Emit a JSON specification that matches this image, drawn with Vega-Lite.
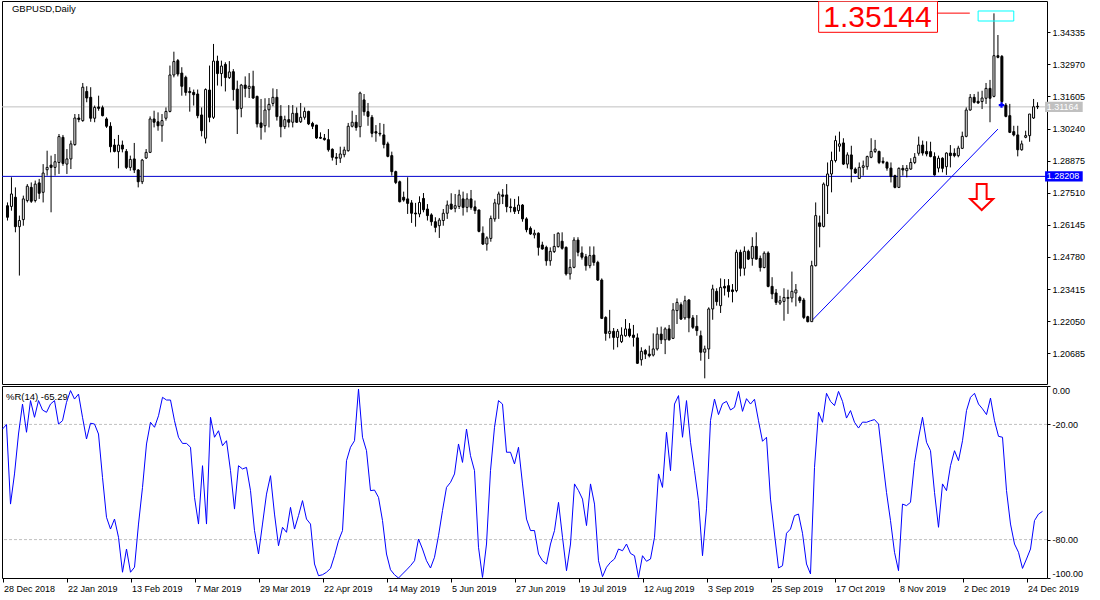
{
"$schema": "https://vega.github.io/schema/vega-lite/v6.json",
"background": "white",
"padding": {"left": 0, "top": 0, "right": 0, "bottom": 0},
"spacing": 2,
"bounds": "flush",
"config": {
  "view": {"stroke": "#000000", "strokeWidth": 1},
  "axis": {"labelFont": "Liberation Sans", "labelFontSize": 9, "labelColor": "#000000", "tickColor": "#000000", "domain": false, "grid": false},
  "text": {"font": "Liberation Sans"}
},
"datasets": {
"bars": [
{"i":0,"o":1.2696,"h":1.2710,"l":1.2633,"c":1.2647,"r":-22.4},
{"i":1,"o":1.2693,"h":1.2817,"l":1.2675,"c":1.2746,"r":-20.1},
{"i":2,"o":1.2732,"h":1.2774,"l":1.2583,"c":1.2607,"r":-61.5},
{"i":3,"o":1.2607,"h":1.2654,"l":1.2399,"c":1.2633,"r":-45.8},
{"i":4,"o":1.2637,"h":1.2739,"l":1.2611,"c":1.2725,"r":-25.0},
{"i":5,"o":1.2718,"h":1.2788,"l":1.2710,"c":1.2779,"r":-9.4},
{"i":6,"o":1.2774,"h":1.2795,"l":1.2708,"c":1.2715,"r":-24.1},
{"i":7,"o":1.2718,"h":1.2803,"l":1.2710,"c":1.2788,"r":-7.6},
{"i":8,"o":1.2793,"h":1.2810,"l":1.2725,"c":1.2749,"r":-16.3},
{"i":9,"o":1.2753,"h":1.2873,"l":1.2710,"c":1.2835,"r":-7.6},
{"i":10,"o":1.2849,"h":1.2930,"l":1.2824,"c":1.2859,"r":-12.5},
{"i":11,"o":1.2869,"h":1.2909,"l":1.2668,"c":1.2859,"r":-13.7},
{"i":12,"o":1.2859,"h":1.2916,"l":1.2824,"c":1.2883,"r":-9.4},
{"i":13,"o":1.2880,"h":1.3001,"l":1.2831,"c":1.2990,"r":-7.6},
{"i":14,"o":1.2987,"h":1.2997,"l":1.2866,"c":1.2876,"r":-19.8},
{"i":15,"o":1.2873,"h":1.2937,"l":1.2831,"c":1.2895,"r":-18.1},
{"i":16,"o":1.2895,"h":1.2973,"l":1.2852,"c":1.2959,"r":-8.5},
{"i":17,"o":1.2956,"h":1.3086,"l":1.2951,"c":1.3069,"r":-2.4},
{"i":18,"o":1.3069,"h":1.3086,"l":1.3051,"c":1.3063,"r":-6.8},
{"i":19,"o":1.3058,"h":1.3218,"l":1.3053,"c":1.3200,"r":-4.2},
{"i":20,"o":1.3182,"h":1.3204,"l":1.3136,"c":1.3154,"r":-16.3},
{"i":21,"o":1.3157,"h":1.3200,"l":1.3053,"c":1.3068,"r":-27.6},
{"i":22,"o":1.3068,"h":1.3122,"l":1.3051,"c":1.3114,"r":-19.4},
{"i":23,"o":1.3116,"h":1.3164,"l":1.3100,"c":1.3110,"r":-19.8},
{"i":24,"o":1.3113,"h":1.3122,"l":1.3076,"c":1.3079,"r":-25.0},
{"i":25,"o":1.3065,"h":1.3072,"l":1.3027,"c":1.3034,"r":-47.6},
{"i":26,"o":1.3034,"h":1.3051,"l":1.2923,"c":1.2947,"r":-68.4},
{"i":27,"o":1.2954,"h":1.2980,"l":1.2923,"c":1.2927,"r":-74.5},
{"i":28,"o":1.2926,"h":1.2997,"l":1.2855,"c":1.2954,"r":-69.3},
{"i":29,"o":1.2954,"h":1.2973,"l":1.2923,"c":1.2937,"r":-78.8},
{"i":30,"o":1.2927,"h":1.2937,"l":1.2852,"c":1.2859,"r":-97.0},
{"i":31,"o":1.2859,"h":1.2909,"l":1.2845,"c":1.2893,"r":-84.9},
{"i":32,"o":1.2895,"h":1.2963,"l":1.2835,"c":1.2848,"r":-97.0},
{"i":33,"o":1.2848,"h":1.2852,"l":1.2774,"c":1.2798,"r":-94.4},
{"i":34,"o":1.2798,"h":1.2895,"l":1.2788,"c":1.2890,"r":-71.9},
{"i":35,"o":1.2899,"h":1.2937,"l":1.2895,"c":1.2923,"r":-52.8},
{"i":36,"o":1.2923,"h":1.3076,"l":1.2920,"c":1.3065,"r":-30.2},
{"i":37,"o":1.3065,"h":1.3100,"l":1.3029,"c":1.3051,"r":-18.9},
{"i":38,"o":1.3053,"h":1.3093,"l":1.3015,"c":1.3036,"r":-21.5},
{"i":39,"o":1.3036,"h":1.3086,"l":1.2968,"c":1.3058,"r":-15.5},
{"i":40,"o":1.3068,"h":1.3114,"l":1.3058,"c":1.3097,"r":-5.9},
{"i":41,"o":1.3097,"h":1.3292,"l":1.3093,"c":1.3252,"r":-7.3},
{"i":42,"o":1.3252,"h":1.3351,"l":1.3242,"c":1.3309,"r":-7.3},
{"i":43,"o":1.3313,"h":1.3320,"l":1.3246,"c":1.3256,"r":-18.1},
{"i":44,"o":1.3260,"h":1.3285,"l":1.3164,"c":1.3204,"r":-26.7},
{"i":45,"o":1.3242,"h":1.3249,"l":1.3164,"c":1.3178,"r":-29.9},
{"i":46,"o":1.3182,"h":1.3200,"l":1.3096,"c":1.3177,"r":-29.9},
{"i":47,"o":1.3178,"h":1.3190,"l":1.3122,"c":1.3168,"r":-31.9},
{"i":48,"o":1.3171,"h":1.3190,"l":1.3068,"c":1.3079,"r":-58.0},
{"i":49,"o":1.3082,"h":1.3114,"l":1.2991,"c":1.3015,"r":-71.9},
{"i":50,"o":1.2983,"h":1.3195,"l":1.2961,"c":1.3190,"r":-41.5},
{"i":51,"o":1.3188,"h":1.3292,"l":1.3051,"c":1.3072,"r":-71.9},
{"i":52,"o":1.3072,"h":1.3384,"l":1.3065,"c":1.3311,"r":-16.3},
{"i":53,"o":1.3311,"h":1.3334,"l":1.3207,"c":1.3258,"r":-26.7},
{"i":54,"o":1.3258,"h":1.3313,"l":1.3204,"c":1.3290,"r":-23.3},
{"i":55,"o":1.3297,"h":1.3306,"l":1.3182,"c":1.3241,"r":-31.1},
{"i":56,"o":1.3241,"h":1.3311,"l":1.3235,"c":1.3265,"r":-28.5},
{"i":57,"o":1.3266,"h":1.3277,"l":1.3143,"c":1.3190,"r":-44.1},
{"i":58,"o":1.3192,"h":1.3228,"l":1.3001,"c":1.3107,"r":-64.1},
{"i":59,"o":1.3110,"h":1.3214,"l":1.3072,"c":1.3209,"r":-41.5},
{"i":60,"o":1.3209,"h":1.3246,"l":1.3157,"c":1.3195,"r":-43.2},
{"i":61,"o":1.3195,"h":1.3260,"l":1.3154,"c":1.3204,"r":-42.4},
{"i":62,"o":1.3204,"h":1.3270,"l":1.3150,"c":1.3154,"r":-54.5},
{"i":63,"o":1.3161,"h":1.3164,"l":1.3029,"c":1.3044,"r":-75.3},
{"i":64,"o":1.3048,"h":1.3150,"l":1.2977,"c":1.3029,"r":-87.5},
{"i":65,"o":1.3036,"h":1.3153,"l":1.3008,"c":1.3103,"r":-71.9},
{"i":66,"o":1.3104,"h":1.3154,"l":1.3029,"c":1.3127,"r":-56.3},
{"i":67,"o":1.3131,"h":1.3195,"l":1.3119,"c":1.3157,"r":-46.7},
{"i":68,"o":1.3157,"h":1.3192,"l":1.3058,"c":1.3075,"r":-66.7},
{"i":69,"o":1.3076,"h":1.3124,"l":1.2987,"c":1.3032,"r":-83.2},
{"i":70,"o":1.3032,"h":1.3079,"l":1.3022,"c":1.3062,"r":-73.6},
{"i":71,"o":1.3062,"h":1.3124,"l":1.3029,"c":1.3051,"r":-76.2},
{"i":72,"o":1.3051,"h":1.3124,"l":1.3029,"c":1.3089,"r":-63.2},
{"i":73,"o":1.3089,"h":1.3114,"l":1.3048,"c":1.3051,"r":-74.5},
{"i":74,"o":1.3053,"h":1.3133,"l":1.3048,"c":1.3072,"r":-67.5},
{"i":75,"o":1.3072,"h":1.3114,"l":1.3062,"c":1.3097,"r":-59.7},
{"i":76,"o":1.3097,"h":1.3100,"l":1.3039,"c":1.3044,"r":-69.3},
{"i":77,"o":1.3046,"h":1.3053,"l":1.3022,"c":1.3034,"r":-71.9},
{"i":78,"o":1.3039,"h":1.3040,"l":1.2980,"c":1.2984,"r":-92.7},
{"i":79,"o":1.2987,"h":1.3008,"l":1.2980,"c":1.2983,"r":-98.8},
{"i":80,"o":1.2983,"h":1.3001,"l":1.2973,"c":1.2977,"r":-98.3},
{"i":81,"o":1.2977,"h":1.3022,"l":1.2926,"c":1.2934,"r":-97.0},
{"i":82,"o":1.2936,"h":1.2940,"l":1.2888,"c":1.2902,"r":-95.0},
{"i":83,"o":1.2902,"h":1.2920,"l":1.2869,"c":1.2898,"r":-88.4},
{"i":84,"o":1.2898,"h":1.2947,"l":1.2878,"c":1.2916,"r":-80.6},
{"i":85,"o":1.2913,"h":1.2947,"l":1.2902,"c":1.2933,"r":-75.3},
{"i":86,"o":1.2930,"h":1.3048,"l":1.2926,"c":1.3034,"r":-38.9},
{"i":87,"o":1.3034,"h":1.3100,"l":1.3029,"c":1.3051,"r":-31.9},
{"i":88,"o":1.3051,"h":1.3082,"l":1.3015,"c":1.3029,"r":-28.5},
{"i":89,"o":1.3032,"h":1.3181,"l":1.2987,"c":1.3175,"r":-1.6},
{"i":90,"o":1.3146,"h":1.3171,"l":1.3079,"c":1.3096,"r":-26.7},
{"i":91,"o":1.3096,"h":1.3133,"l":1.3036,"c":1.3076,"r":-33.7},
{"i":92,"o":1.3072,"h":1.3082,"l":1.2987,"c":1.3004,"r":-54.5},
{"i":93,"o":1.3011,"h":1.3039,"l":1.2968,"c":1.3005,"r":-54.2},
{"i":94,"o":1.3004,"h":1.3048,"l":1.2991,"c":1.3001,"r":-58.0},
{"i":95,"o":1.2997,"h":1.3044,"l":1.2940,"c":1.2956,"r":-70.1},
{"i":96,"o":1.2959,"h":1.2968,"l":1.2902,"c":1.2906,"r":-87.5},
{"i":97,"o":1.2909,"h":1.2926,"l":1.2824,"c":1.2841,"r":-95.7},
{"i":98,"o":1.2841,"h":1.2845,"l":1.2788,"c":1.2795,"r":-98.3},
{"i":99,"o":1.2798,"h":1.2803,"l":1.2710,"c":1.2713,"r":-100.0},
{"i":100,"o":1.2732,"h":1.2756,"l":1.2713,"c":1.2720,"r":-97.9},
{"i":101,"o":1.2725,"h":1.2817,"l":1.2661,"c":1.2706,"r":-95.8},
{"i":102,"o":1.2708,"h":1.2720,"l":1.2623,"c":1.2664,"r":-93.6},
{"i":103,"o":1.2665,"h":1.2708,"l":1.2607,"c":1.2661,"r":-91.0},
{"i":104,"o":1.2661,"h":1.2736,"l":1.2647,"c":1.2710,"r":-79.7},
{"i":105,"o":1.2727,"h":1.2750,"l":1.2668,"c":1.2679,"r":-84.9},
{"i":106,"o":1.2682,"h":1.2703,"l":1.2633,"c":1.2654,"r":-91.0},
{"i":107,"o":1.2657,"h":1.2664,"l":1.2611,"c":1.2628,"r":-94.8},
{"i":108,"o":1.2628,"h":1.2647,"l":1.2583,"c":1.2604,"r":-89.2},
{"i":109,"o":1.2611,"h":1.2644,"l":1.2559,"c":1.2635,"r":-78.0},
{"i":110,"o":1.2633,"h":1.2682,"l":1.2611,"c":1.2664,"r":-64.9},
{"i":111,"o":1.2664,"h":1.2718,"l":1.2640,"c":1.2699,"r":-52.8},
{"i":112,"o":1.2703,"h":1.2749,"l":1.2679,"c":1.2682,"r":-50.2},
{"i":113,"o":1.2685,"h":1.2746,"l":1.2668,"c":1.2696,"r":-45.8},
{"i":114,"o":1.2693,"h":1.2764,"l":1.2682,"c":1.2742,"r":-30.2},
{"i":115,"o":1.2725,"h":1.2756,"l":1.2654,"c":1.2689,"r":-39.8},
{"i":116,"o":1.2689,"h":1.2749,"l":1.2668,"c":1.2725,"r":-22.4},
{"i":117,"o":1.2725,"h":1.2763,"l":1.2679,"c":1.2689,"r":-36.3},
{"i":118,"o":1.2691,"h":1.2718,"l":1.2661,"c":1.2675,"r":-44.1},
{"i":119,"o":1.2678,"h":1.2679,"l":1.2583,"c":1.2587,"r":-84.0},
{"i":120,"o":1.2579,"h":1.2608,"l":1.2529,"c":1.2533,"r":-99.7},
{"i":121,"o":1.2533,"h":1.2566,"l":1.2505,"c":1.2559,"r":-82.3},
{"i":122,"o":1.2557,"h":1.2654,"l":1.2543,"c":1.2642,"r":-44.1},
{"i":123,"o":1.2640,"h":1.2725,"l":1.2628,"c":1.2708,"r":-21.5},
{"i":124,"o":1.2703,"h":1.2756,"l":1.2640,"c":1.2746,"r":-7.6},
{"i":125,"o":1.2742,"h":1.2767,"l":1.2703,"c":1.2736,"r":-9.4},
{"i":126,"o":1.2742,"h":1.2788,"l":1.2668,"c":1.2692,"r":-34.5},
{"i":127,"o":1.2691,"h":1.2727,"l":1.2668,"c":1.2688,"r":-34.5},
{"i":128,"o":1.2689,"h":1.2725,"l":1.2661,"c":1.2672,"r":-40.6},
{"i":129,"o":1.2675,"h":1.2736,"l":1.2661,"c":1.2699,"r":-31.9},
{"i":130,"o":1.2699,"h":1.2703,"l":1.2628,"c":1.2640,"r":-51.0},
{"i":131,"o":1.2640,"h":1.2647,"l":1.2583,"c":1.2594,"r":-69.3},
{"i":132,"o":1.2600,"h":1.2608,"l":1.2572,"c":1.2576,"r":-75.3},
{"i":133,"o":1.2572,"h":1.2594,"l":1.2557,"c":1.2579,"r":-75.3},
{"i":134,"o":1.2579,"h":1.2583,"l":1.2484,"c":1.2519,"r":-87.5},
{"i":135,"o":1.2529,"h":1.2543,"l":1.2509,"c":1.2512,"r":-91.0},
{"i":136,"o":1.2519,"h":1.2526,"l":1.2441,"c":1.2462,"r":-92.7},
{"i":137,"o":1.2462,"h":1.2519,"l":1.2441,"c":1.2502,"r":-82.3},
{"i":138,"o":1.2501,"h":1.2576,"l":1.2495,"c":1.2523,"r":-75.3},
{"i":139,"o":1.2522,"h":1.2583,"l":1.2518,"c":1.2579,"r":-60.6},
{"i":140,"o":1.2545,"h":1.2583,"l":1.2509,"c":1.2515,"r":-78.8},
{"i":141,"o":1.2519,"h":1.2523,"l":1.2399,"c":1.2406,"r":-96.2},
{"i":142,"o":1.2406,"h":1.2469,"l":1.2382,"c":1.2434,"r":-82.3},
{"i":143,"o":1.2434,"h":1.2562,"l":1.2430,"c":1.2550,"r":-51.0},
{"i":144,"o":1.2550,"h":1.2562,"l":1.2481,"c":1.2498,"r":-54.5},
{"i":145,"o":1.2495,"h":1.2523,"l":1.2467,"c":1.2477,"r":-58.9},
{"i":146,"o":1.2479,"h":1.2491,"l":1.2420,"c":1.2441,"r":-72.7},
{"i":147,"o":1.2441,"h":1.2523,"l":1.2430,"c":1.2484,"r":-51.0},
{"i":148,"o":1.2486,"h":1.2523,"l":1.2441,"c":1.2455,"r":-61.5},
{"i":149,"o":1.2455,"h":1.2462,"l":1.2376,"c":1.2380,"r":-91.0},
{"i":150,"o":1.2380,"h":1.2387,"l":1.2214,"c":1.2217,"r":-99.3},
{"i":151,"o":1.2221,"h":1.2226,"l":1.2122,"c":1.2153,"r":-94.4},
{"i":152,"o":1.2153,"h":1.2253,"l":1.2132,"c":1.2162,"r":-91.8},
{"i":153,"o":1.2162,"h":1.2176,"l":1.2084,"c":1.2136,"r":-90.1},
{"i":154,"o":1.2136,"h":1.2172,"l":1.2094,"c":1.2162,"r":-84.9},
{"i":155,"o":1.2118,"h":1.2179,"l":1.2112,"c":1.2146,"r":-85.8},
{"i":156,"o":1.2143,"h":1.2214,"l":1.2139,"c":1.2172,"r":-82.3},
{"i":157,"o":1.2172,"h":1.2197,"l":1.2136,"c":1.2143,"r":-87.2},
{"i":158,"o":1.2146,"h":1.2189,"l":1.2097,"c":1.2136,"r":-88.4},
{"i":159,"o":1.2134,"h":1.2153,"l":1.2023,"c":1.2026,"r":-99.7},
{"i":160,"o":1.2041,"h":1.2094,"l":1.2016,"c":1.2077,"r":-88.4},
{"i":161,"o":1.2080,"h":1.2087,"l":1.2044,"c":1.2065,"r":-91.3},
{"i":162,"o":1.2065,"h":1.2101,"l":1.2051,"c":1.2058,"r":-90.1},
{"i":163,"o":1.2061,"h":1.2153,"l":1.2055,"c":1.2087,"r":-78.8},
{"i":164,"o":1.2087,"h":1.2179,"l":1.2080,"c":1.2150,"r":-45.8},
{"i":165,"o":1.2150,"h":1.2182,"l":1.2108,"c":1.2126,"r":-52.8},
{"i":166,"o":1.2126,"h":1.2179,"l":1.2065,"c":1.2172,"r":-24.1},
{"i":167,"o":1.2172,"h":1.2189,"l":1.2122,"c":1.2126,"r":-44.1},
{"i":168,"o":1.2132,"h":1.2282,"l":1.2129,"c":1.2253,"r":-9.4},
{"i":169,"o":1.2250,"h":1.2302,"l":1.2193,"c":1.2285,"r":-5.0},
{"i":170,"o":1.2275,"h":1.2285,"l":1.2210,"c":1.2214,"r":-26.7},
{"i":171,"o":1.2219,"h":1.2313,"l":1.2211,"c":1.2292,"r":-7.6},
{"i":172,"o":1.2295,"h":1.2299,"l":1.2158,"c":1.2219,"r":-29.3},
{"i":173,"o":1.2219,"h":1.2231,"l":1.2172,"c":1.2179,"r":-44.1},
{"i":174,"o":1.2183,"h":1.2231,"l":1.2143,"c":1.2165,"r":-59.7},
{"i":175,"o":1.2143,"h":1.2165,"l":1.2037,"c":1.2073,"r":-88.4},
{"i":176,"o":1.2073,"h":1.2101,"l":1.1962,"c":1.2087,"r":-64.0},
{"i":177,"o":1.2087,"h":1.2264,"l":1.2044,"c":1.2257,"r":-18.0},
{"i":178,"o":1.2257,"h":1.2360,"l":1.2211,"c":1.2342,"r":-6.8},
{"i":179,"o":1.2332,"h":1.2345,"l":1.2271,"c":1.2288,"r":-14.9},
{"i":180,"o":1.2271,"h":1.2387,"l":1.2240,"c":1.2349,"r":-9.2},
{"i":181,"o":1.2353,"h":1.2384,"l":1.2314,"c":1.2346,"r":-8.0},
{"i":182,"o":1.2356,"h":1.2384,"l":1.2306,"c":1.2331,"r":-12.5},
{"i":183,"o":1.2338,"h":1.2363,"l":1.2285,"c":1.2331,"r":-11.1},
{"i":184,"o":1.2335,"h":1.2509,"l":1.2328,"c":1.2498,"r":-2.8},
{"i":185,"o":1.2498,"h":1.2509,"l":1.2396,"c":1.2430,"r":-13.2},
{"i":186,"o":1.2430,"h":1.2523,"l":1.2399,"c":1.2502,"r":-6.6},
{"i":187,"o":1.2502,"h":1.2509,"l":1.2465,"c":1.2469,"r":-9.4},
{"i":188,"o":1.2472,"h":1.2562,"l":1.2441,"c":1.2523,"r":-6.9},
{"i":189,"o":1.2523,"h":1.2583,"l":1.2467,"c":1.2469,"r":-18.1},
{"i":190,"o":1.2472,"h":1.2484,"l":1.2416,"c":1.2433,"r":-28.8},
{"i":191,"o":1.2433,"h":1.2502,"l":1.2430,"c":1.2494,"r":-26.7},
{"i":192,"o":1.2495,"h":1.2502,"l":1.2349,"c":1.2353,"r":-58.9},
{"i":193,"o":1.2353,"h":1.2392,"l":1.2299,"c":1.2321,"r":-77.1},
{"i":194,"o":1.2325,"h":1.2342,"l":1.2274,"c":1.2285,"r":-94.8},
{"i":195,"o":1.2282,"h":1.2313,"l":1.2274,"c":1.2292,"r":-93.6},
{"i":196,"o":1.2289,"h":1.2345,"l":1.2207,"c":1.2306,"r":-76.7},
{"i":197,"o":1.2302,"h":1.2339,"l":1.2236,"c":1.2306,"r":-74.5},
{"i":198,"o":1.2304,"h":1.2416,"l":1.2285,"c":1.2332,"r":-67.5},
{"i":199,"o":1.2325,"h":1.2363,"l":1.2268,"c":1.2338,"r":-66.7},
{"i":200,"o":1.2306,"h":1.2313,"l":1.2282,"c":1.2292,"r":-76.7},
{"i":201,"o":1.2295,"h":1.2304,"l":1.2214,"c":1.2221,"r":-92.7},
{"i":202,"o":1.2224,"h":1.2228,"l":1.2200,"c":1.2203,"r":-97.9},
{"i":203,"o":1.2203,"h":1.2462,"l":1.2203,"c":1.2441,"r":-42.4},
{"i":204,"o":1.2441,"h":1.2710,"l":1.2438,"c":1.2654,"r":-13.7},
{"i":205,"o":1.2623,"h":1.2654,"l":1.2519,"c":1.2608,"r":-18.9},
{"i":206,"o":1.2608,"h":1.2795,"l":1.2604,"c":1.2788,"r":-3.8},
{"i":207,"o":1.2781,"h":1.2880,"l":1.2661,"c":1.2831,"r":-8.0},
{"i":208,"o":1.2831,"h":1.2926,"l":1.2753,"c":1.2888,"r":-10.2},
{"i":209,"o":1.2888,"h":1.2994,"l":1.2880,"c":1.2973,"r":-2.8},
{"i":210,"o":1.2949,"h":1.3011,"l":1.2926,"c":1.2959,"r":-8.0},
{"i":211,"o":1.2963,"h":1.2983,"l":1.2869,"c":1.2873,"r":-16.7},
{"i":212,"o":1.2873,"h":1.2923,"l":1.2855,"c":1.2912,"r":-12.8},
{"i":213,"o":1.2912,"h":1.2951,"l":1.2795,"c":1.2852,"r":-18.9},
{"i":214,"o":1.2852,"h":1.2859,"l":1.2831,"c":1.2835,"r":-21.9},
{"i":215,"o":1.2812,"h":1.2880,"l":1.2810,"c":1.2859,"r":-18.8},
{"i":216,"o":1.2859,"h":1.2888,"l":1.2824,"c":1.2866,"r":-18.9},
{"i":217,"o":1.2862,"h":1.2909,"l":1.2849,"c":1.2905,"r":-18.1},
{"i":218,"o":1.2902,"h":1.2983,"l":1.2898,"c":1.2927,"r":-17.5},
{"i":219,"o":1.2927,"h":1.2976,"l":1.2920,"c":1.2937,"r":-19.8},
{"i":220,"o":1.2927,"h":1.2930,"l":1.2873,"c":1.2880,"r":-38.0},
{"i":221,"o":1.2885,"h":1.2902,"l":1.2873,"c":1.2880,"r":-55.4},
{"i":222,"o":1.2880,"h":1.2885,"l":1.2845,"c":1.2856,"r":-70.1},
{"i":223,"o":1.2856,"h":1.2880,"l":1.2795,"c":1.2820,"r":-86.6},
{"i":224,"o":1.2824,"h":1.2828,"l":1.2770,"c":1.2774,"r":-96.2},
{"i":225,"o":1.2774,"h":1.2859,"l":1.2771,"c":1.2855,"r":-61.5},
{"i":226,"o":1.2855,"h":1.2869,"l":1.2824,"c":1.2848,"r":-62.3},
{"i":227,"o":1.2845,"h":1.2869,"l":1.2817,"c":1.2855,"r":-60.6},
{"i":228,"o":1.2852,"h":1.2898,"l":1.2848,"c":1.2880,"r":-39.8},
{"i":229,"o":1.2880,"h":1.2920,"l":1.2873,"c":1.2902,"r":-27.1},
{"i":230,"o":1.2919,"h":1.2990,"l":1.2909,"c":1.2954,"r":-16.3},
{"i":231,"o":1.2954,"h":1.2973,"l":1.2909,"c":1.2920,"r":-29.3},
{"i":232,"o":1.2927,"h":1.2970,"l":1.2906,"c":1.2916,"r":-33.7},
{"i":233,"o":1.2926,"h":1.2968,"l":1.2902,"c":1.2905,"r":-55.4},
{"i":234,"o":1.2905,"h":1.2923,"l":1.2824,"c":1.2827,"r":-73.6},
{"i":235,"o":1.2856,"h":1.2909,"l":1.2838,"c":1.2898,"r":-51.0},
{"i":236,"o":1.2898,"h":1.2902,"l":1.2838,"c":1.2855,"r":-54.5},
{"i":237,"o":1.2862,"h":1.2923,"l":1.2827,"c":1.2920,"r":-41.5},
{"i":238,"o":1.2920,"h":1.2954,"l":1.2859,"c":1.2909,"r":-33.7},
{"i":239,"o":1.2919,"h":1.2940,"l":1.2902,"c":1.2909,"r":-38.9},
{"i":240,"o":1.2909,"h":1.2951,"l":1.2902,"c":1.2941,"r":-28.5},
{"i":241,"o":1.2940,"h":1.3011,"l":1.2937,"c":1.2991,"r":-12.8},
{"i":242,"o":1.2991,"h":1.3114,"l":1.2987,"c":1.3103,"r":-5.9},
{"i":243,"o":1.3103,"h":1.3171,"l":1.3100,"c":1.3157,"r":-3.8},
{"i":244,"o":1.3157,"h":1.3171,"l":1.3131,"c":1.3136,"r":-9.4},
{"i":245,"o":1.3140,"h":1.3181,"l":1.3129,"c":1.3133,"r":-11.9},
{"i":246,"o":1.3139,"h":1.3185,"l":1.3107,"c":1.3154,"r":-14.9},
{"i":247,"o":1.3153,"h":1.3218,"l":1.3129,"c":1.3195,"r":-6.3},
{"i":248,"o":1.3195,"h":1.3231,"l":1.3051,"c":1.3153,"r":-18.1},
{"i":249,"o":1.3161,"h":1.3514,"l":1.3157,"c":1.3334,"r":-26.2},
{"i":250,"o":1.3334,"h":1.3422,"l":1.3323,"c":1.3327,"r":-26.7},
{"i":251,"o":1.3331,"h":1.3337,"l":1.3124,"c":1.3139,"r":-54.5},
{"i":252,"o":1.3124,"h":1.3133,"l":1.3072,"c":1.3076,"r":-71.9},
{"i":253,"o":1.3079,"h":1.3129,"l":1.3005,"c":1.3008,"r":-82.3},
{"i":254,"o":1.3011,"h":1.3036,"l":1.2991,"c":1.2997,"r":-86.6},
{"i":255,"o":1.2997,"h":1.3036,"l":1.2906,"c":1.2934,"r":-95.0},
{"i":256,"o":1.2934,"h":1.2973,"l":1.2930,"c":1.2959,"r":-90.1},
{"i":257,"o":1.2987,"h":1.3015,"l":1.2983,"c":1.2994,"r":-84.9},
{"i":258,"o":1.2994,"h":1.3086,"l":1.2968,"c":1.3086,"r":-70.1},
{"i":259,"o":1.3069,"h":1.3150,"l":1.3065,"c":1.3117,"r":-66.7},
{"i":260,"o":1.3119,"h":1.3136,"l":1.3107,"c":1.31164,"r":-65.29}
]
},
"vconcat": [
{
  "width": 1045,
  "height": 383,
  "layer": [
    {
      "data": {"values": [{"p": 1.31164}]},
      "mark": {"type": "rule", "color": "#c0c0c0", "strokeWidth": 1},
      "encoding": {"y": {"field": "p", "type": "quantitative", "title": null, "scale": {"domain": [1.19379, 1.35666], "nice": false, "zero": false},
        "axis": {"orient": "right", "values": [1.20685, 1.2205, 1.23415, 1.2478, 1.26145, 1.2751, 1.28875, 1.3024, 1.31605, 1.3297, 1.34335], "format": ".5f", "tickSize": 3, "labelPadding": 2, "title": null}}}
    },
    {
      "data": {"values": [{"p": 1.28208}]},
      "mark": {"type": "rule", "color": "#0000cd", "strokeWidth": 1},
      "encoding": {"y": {"field": "p", "type": "quantitative", "title": null, "scale": {"domain": [1.19379, 1.35666], "nice": false, "zero": false},
        "axis": {"orient": "right", "values": [1.20685, 1.2205, 1.23415, 1.2478, 1.26145, 1.2751, 1.28875, 1.3024, 1.31605, 1.3297, 1.34335], "format": ".5f", "tickSize": 3, "labelPadding": 2, "title": null}}}
    },
    {
      "data": {"values": [{"i": 203, "p": 1.2207}, {"i": 250, "p": 1.3022}]},
      "mark": {"type": "line", "color": "#0000ff", "strokeWidth": 1},
      "encoding": {
        "x": {"field": "i", "type": "quantitative", "title": null, "scale": {"domain": [-0.125, 261.125], "nice": false, "zero": false}, "axis": null},
        "y": {"field": "p", "type": "quantitative", "title": null, "scale": {"domain": [1.19379, 1.35666], "nice": false, "zero": false},
          "axis": {"orient": "right", "values": [1.20685, 1.2205, 1.23415, 1.2478, 1.26145, 1.2751, 1.28875, 1.3024, 1.31605, 1.3297, 1.34335], "format": ".5f", "tickSize": 3, "labelPadding": 2, "title": null}}
      }
    },
    {
      "data": {"name": "bars"},
      "mark": {"type": "rule", "color": "#000000", "strokeWidth": 1, "clip": true},
      "encoding": {
        "x": {"field": "i", "type": "quantitative", "title": null, "scale": {"domain": [-0.125, 261.125], "nice": false, "zero": false}, "axis": null},
        "y": {"field": "l", "type": "quantitative", "title": null, "scale": {"domain": [1.19379, 1.35666], "nice": false, "zero": false},
          "axis": {"orient": "right", "values": [1.20685, 1.2205, 1.23415, 1.2478, 1.26145, 1.2751, 1.28875, 1.3024, 1.31605, 1.3297, 1.34335], "format": ".5f", "tickSize": 3, "labelPadding": 2, "title": null}},
        "y2": {"field": "h"}
      }
    },
    {
      "data": {"name": "bars"},
      "mark": {"type": "bar", "size": 2, "stroke": "#000000", "strokeWidth": 1, "clip": true},
      "encoding": {
        "x": {"field": "i", "type": "quantitative", "title": null, "scale": {"domain": [-0.125, 261.125], "nice": false, "zero": false}, "axis": null},
        "y": {"field": "o", "type": "quantitative", "title": null, "scale": {"domain": [1.19379, 1.35666], "nice": false, "zero": false},
          "axis": {"orient": "right", "values": [1.20685, 1.2205, 1.23415, 1.2478, 1.26145, 1.2751, 1.28875, 1.3024, 1.31605, 1.3297, 1.34335], "format": ".5f", "tickSize": 3, "labelPadding": 2, "title": null}},
        "y2": {"field": "c"},
        "fill": {"condition": {"test": "datum.c < datum.o", "value": "#000000"}, "value": "#ffffff"}
      }
    },
    {
      "data": {"values": [{"i": 204.75, "i2": 234.75, "p": 1.3566, "p2": 1.34335}]},
      "mark": {"type": "rect", "fill": "#ffffff", "stroke": "#ff0000", "strokeWidth": 1, "clip": true},
      "encoding": {
        "x": {"field": "i", "type": "quantitative", "title": null, "scale": {"domain": [-0.125, 261.125], "nice": false, "zero": false}, "axis": null},
        "x2": {"field": "i2"},
        "y": {"field": "p", "type": "quantitative", "title": null, "scale": {"domain": [1.19379, 1.35666], "nice": false, "zero": false},
          "axis": {"orient": "right", "values": [1.20685, 1.2205, 1.23415, 1.2478, 1.26145, 1.2751, 1.28875, 1.3024, 1.31605, 1.3297, 1.34335], "format": ".5f", "tickSize": 3, "labelPadding": 2, "title": null}},
        "y2": {"field": "p2"}
      }
    },
    {
      "data": {"values": [{"i": 219.6, "p": 1.34561, "t": "1.35144"}]},
      "mark": {"type": "text", "font": "Liberation Sans", "fontSize": 30, "color": "#ff0000", "align": "center", "baseline": "alphabetic"},
      "encoding": {
        "x": {"field": "i", "type": "quantitative", "title": null, "scale": {"domain": [-0.125, 261.125], "nice": false, "zero": false}, "axis": null},
        "y": {"field": "p", "type": "quantitative", "title": null, "scale": {"domain": [1.19379, 1.35666], "nice": false, "zero": false},
          "axis": {"orient": "right", "values": [1.20685, 1.2205, 1.23415, 1.2478, 1.26145, 1.2751, 1.28875, 1.3024, 1.31605, 1.3297, 1.34335], "format": ".5f", "tickSize": 3, "labelPadding": 2, "title": null}},
        "text": {"field": "t"}
      }
    },
    {
      "data": {"values": [{"i": 234.6, "i2": 242.9, "p": 1.3515}]},
      "mark": {"type": "rule", "color": "#ff0000", "strokeWidth": 1},
      "encoding": {
        "x": {"field": "i", "type": "quantitative", "title": null, "scale": {"domain": [-0.125, 261.125], "nice": false, "zero": false}, "axis": null},
        "x2": {"field": "i2"},
        "y": {"field": "p", "type": "quantitative", "title": null, "scale": {"domain": [1.19379, 1.35666], "nice": false, "zero": false},
          "axis": {"orient": "right", "values": [1.20685, 1.2205, 1.23415, 1.2478, 1.26145, 1.2751, 1.28875, 1.3024, 1.31605, 1.3297, 1.34335], "format": ".5f", "tickSize": 3, "labelPadding": 2, "title": null}}
      }
    },
    {
      "data": {"values": [{"i": 245.0, "i2": 254.0, "p": 1.35241, "p2": 1.34815}]},
      "mark": {"type": "rect", "filled": false, "color": "#00ffff", "strokeWidth": 1},
      "encoding": {
        "x": {"field": "i", "type": "quantitative", "title": null, "scale": {"domain": [-0.125, 261.125], "nice": false, "zero": false}, "axis": null},
        "x2": {"field": "i2"},
        "y": {"field": "p", "type": "quantitative", "title": null, "scale": {"domain": [1.19379, 1.35666], "nice": false, "zero": false},
          "axis": {"orient": "right", "values": [1.20685, 1.2205, 1.23415, 1.2478, 1.26145, 1.2751, 1.28875, 1.3024, 1.31605, 1.3297, 1.34335], "format": ".5f", "tickSize": 3, "labelPadding": 2, "title": null}},
        "y2": {"field": "p2"}
      }
    },
    {
      "data": {"values": [{"i": 245.9, "p": 1.27331}]},
      "mark": {"type": "point", "shape": "M -0.38 -1 L 0.38 -1 L 0.38 0.15 L 0.88 0.15 L 0 1 L -0.88 0.15 L -0.38 0.15 Z", "size": 676, "fill": "#ffffff", "stroke": "#ff0000", "strokeWidth": 2, "opacity": 1},
      "encoding": {
        "x": {"field": "i", "type": "quantitative", "title": null, "scale": {"domain": [-0.125, 261.125], "nice": false, "zero": false}, "axis": null},
        "y": {"field": "p", "type": "quantitative", "title": null, "scale": {"domain": [1.19379, 1.35666], "nice": false, "zero": false},
          "axis": {"orient": "right", "values": [1.20685, 1.2205, 1.23415, 1.2478, 1.26145, 1.2751, 1.28875, 1.3024, 1.31605, 1.3297, 1.34335], "format": ".5f", "tickSize": 3, "labelPadding": 2, "title": null}}
      }
    },
    {
      "data": {"values": [{"i": 250.9, "p": 1.3124}]},
      "mark": {"type": "point", "shape": "cross", "size": 30, "filled": true, "color": "#0000ff", "opacity": 1},
      "encoding": {
        "x": {"field": "i", "type": "quantitative", "title": null, "scale": {"domain": [-0.125, 261.125], "nice": false, "zero": false}, "axis": null},
        "y": {"field": "p", "type": "quantitative", "title": null, "scale": {"domain": [1.19379, 1.35666], "nice": false, "zero": false},
          "axis": {"orient": "right", "values": [1.20685, 1.2205, 1.23415, 1.2478, 1.26145, 1.2751, 1.28875, 1.3024, 1.31605, 1.3297, 1.34335], "format": ".5f", "tickSize": 3, "labelPadding": 2, "title": null}}
      }
    },
    {
      "data": {"values": [{"i": 261.9, "i2": 271.4, "p": 1.30951, "p2": 1.31377, "k": "bid"}, {"i": 261.9, "i2": 271.4, "p": 1.27995, "p2": 1.28421, "k": "lvl"}]},
      "mark": {"type": "rect", "clip": false},
      "encoding": {
        "x": {"field": "i", "type": "quantitative", "title": null, "scale": {"domain": [-0.125, 261.125], "nice": false, "zero": false}, "axis": null},
        "x2": {"field": "i2"},
        "y": {"field": "p", "type": "quantitative", "title": null, "scale": {"domain": [1.19379, 1.35666], "nice": false, "zero": false},
          "axis": {"orient": "right", "values": [1.20685, 1.2205, 1.23415, 1.2478, 1.26145, 1.2751, 1.28875, 1.3024, 1.31605, 1.3297, 1.34335], "format": ".5f", "tickSize": 3, "labelPadding": 2, "title": null}},
        "y2": {"field": "p2"},
        "fill": {"condition": {"test": "datum.k == 'bid'", "value": "#c0c0c0"}, "value": "#0000ff"}
      }
    },
    {
      "data": {"values": [{"i": 262.3, "p": 1.31164, "t": "1.31164"}, {"i": 262.3, "p": 1.28208, "t": "1.28208"}]},
      "mark": {"type": "text", "font": "Liberation Sans", "fontSize": 9, "color": "#ffffff", "align": "left", "baseline": "middle", "clip": false},
      "encoding": {
        "x": {"field": "i", "type": "quantitative", "title": null, "scale": {"domain": [-0.125, 261.125], "nice": false, "zero": false}, "axis": null},
        "y": {"field": "p", "type": "quantitative", "title": null, "scale": {"domain": [1.19379, 1.35666], "nice": false, "zero": false},
          "axis": {"orient": "right", "values": [1.20685, 1.2205, 1.23415, 1.2478, 1.26145, 1.2751, 1.28875, 1.3024, 1.31605, 1.3297, 1.34335], "format": ".5f", "tickSize": 3, "labelPadding": 2, "title": null}},
        "text": {"field": "t"}
      }
    },
    {
      "data": {"values": [{"i": 1.125, "p": 1.35198, "t": "GBPUSD,Daily"}]},
      "mark": {"type": "text", "font": "Liberation Sans", "fontSize": 9.5, "color": "#000000", "align": "left", "baseline": "alphabetic"},
      "encoding": {
        "x": {"field": "i", "type": "quantitative", "title": null, "scale": {"domain": [-0.125, 261.125], "nice": false, "zero": false}, "axis": null},
        "y": {"field": "p", "type": "quantitative", "title": null, "scale": {"domain": [1.19379, 1.35666], "nice": false, "zero": false},
          "axis": {"orient": "right", "values": [1.20685, 1.2205, 1.23415, 1.2478, 1.26145, 1.2751, 1.28875, 1.3024, 1.31605, 1.3297, 1.34335], "format": ".5f", "tickSize": 3, "labelPadding": 2, "title": null}},
        "text": {"field": "t"}
      }
    }
  ]
},
{
  "width": 1045,
  "height": 192,
  "layer": [
    {
      "data": {"values": [{"v": -20}, {"v": -80}]},
      "mark": {"type": "rule", "color": "#c0c0c0", "strokeWidth": 1, "strokeDash": [3, 2]},
      "encoding": {"y": {"field": "v", "type": "quantitative", "title": null, "scale": {"domain": [-100, 0], "nice": false, "zero": false},
        "axis": {"orient": "right", "values": [0, -20, -80, -100], "labelExpr": "replace(format(datum.value, '.2f'), '−', '-')", "labelFlush": true, "tickSize": 3, "labelPadding": 2, "title": null}}}
    },
    {
      "data": {"name": "bars"},
      "mark": {"type": "line", "color": "#0000ff", "strokeWidth": 1},
      "encoding": {
        "x": {"field": "i", "type": "quantitative", "title": null, "scale": {"domain": [-0.125, 261.125], "nice": false, "zero": false},
              "axis": {"orient": "bottom", "values": [0, 16, 32, 48, 64, 80, 96, 112, 128, 144, 160, 176, 192, 208, 224, 240, 256],
                       "labelExpr": "['28 Dec 2018','22 Jan 2019','13 Feb 2019','7 Mar 2019','29 Mar 2019','22 Apr 2019','14 May 2019','5 Jun 2019','27 Jun 2019','19 Jul 2019','12 Aug 2019','3 Sep 2019','25 Sep 2019','17 Oct 2019','8 Nov 2019','2 Dec 2019','24 Dec 2019'][round(datum.value/16)]",
                       "labelAlign": "left", "labelBaseline": "top", "labelOffset": 1, "labelFlush": false, "labelOverlap": false, "labelBound": false, "tickSize": 4, "labelPadding": 2, "title": null}},
        "y": {"field": "r", "type": "quantitative", "title": null, "scale": {"domain": [-100, 0], "nice": false, "zero": false},
              "axis": {"orient": "right", "values": [0, -20, -80, -100], "labelExpr": "replace(format(datum.value, '.2f'), '−', '-')", "labelFlush": true, "tickSize": 3, "labelPadding": 2, "title": null}}
      }
    },
    {
      "data": {"values": [{"i": 0.875, "v": -7.3, "t": "%R(14) -65.29"}]},
      "mark": {"type": "text", "font": "Liberation Sans", "fontSize": 9.5, "color": "#000000", "align": "left", "baseline": "alphabetic"},
      "encoding": {
        "x": {"field": "i", "type": "quantitative", "title": null, "scale": {"domain": [-0.125, 261.125], "nice": false, "zero": false},
              "axis": {"orient": "bottom", "values": [0, 16, 32, 48, 64, 80, 96, 112, 128, 144, 160, 176, 192, 208, 224, 240, 256],
                       "labelExpr": "['28 Dec 2018','22 Jan 2019','13 Feb 2019','7 Mar 2019','29 Mar 2019','22 Apr 2019','14 May 2019','5 Jun 2019','27 Jun 2019','19 Jul 2019','12 Aug 2019','3 Sep 2019','25 Sep 2019','17 Oct 2019','8 Nov 2019','2 Dec 2019','24 Dec 2019'][round(datum.value/16)]",
                       "labelAlign": "left", "labelBaseline": "top", "labelOffset": 1, "labelFlush": false, "labelOverlap": false, "labelBound": false, "tickSize": 4, "labelPadding": 2, "title": null}},
        "y": {"field": "v", "type": "quantitative", "title": null, "scale": {"domain": [-100, 0], "nice": false, "zero": false},
              "axis": {"orient": "right", "values": [0, -20, -80, -100], "labelExpr": "replace(format(datum.value, '.2f'), '−', '-')", "labelFlush": true, "tickSize": 3, "labelPadding": 2, "title": null}},
        "text": {"field": "t"}
      }
    }
  ]
}
]
}
